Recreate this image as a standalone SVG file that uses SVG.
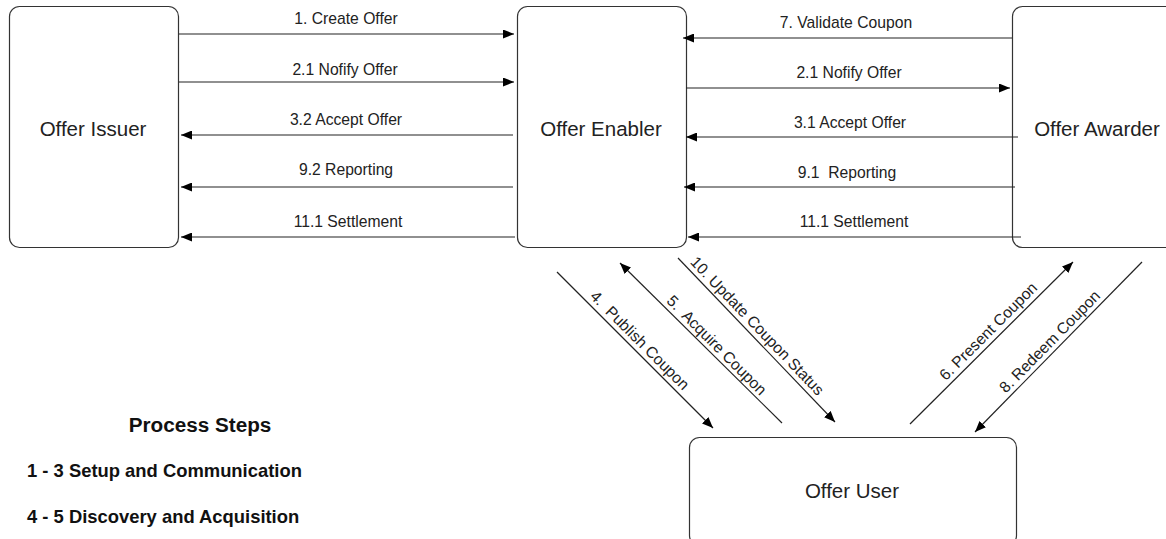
<svg xmlns="http://www.w3.org/2000/svg" width="1166" height="539" viewBox="0 0 1166 539">
<style>
.box{fill:#fff;stroke:#333;stroke-width:1.2}
.nl{font-family:"Liberation Sans",Arial,sans-serif;font-size:20.5px;fill:#222;text-anchor:middle}
.el{font-family:"Liberation Sans",Arial,sans-serif;font-size:15.7px;fill:#222;text-anchor:middle;white-space:pre}
.ln{stroke:#222;stroke-width:1.2;fill:none}
.ar{marker-end:url(#ah)}
.h{font-family:"Liberation Sans",Arial,sans-serif;font-weight:bold;fill:#111}
</style>
<defs>
<marker id="ah" markerUnits="userSpaceOnUse" markerWidth="12" markerHeight="9" refX="11" refY="4.5" orient="auto">
<path d="M0,0 L11,4.5 L0,9 z" fill="#000"/>
</marker>
</defs>
<rect width="1166" height="539" fill="#fff"/>
<g id="node-issuer"><rect class="box" x="9.5" y="6.5" width="169" height="241" rx="10"/><text class="nl" x="93" y="136">Offer Issuer</text></g>
<g id="node-enabler"><rect class="box" x="517.5" y="6.5" width="169" height="241" rx="10"/><text class="nl" x="601" y="136">Offer Enabler</text></g>
<g id="node-awarder"><rect class="box" x="1012.5" y="6.5" width="172" height="241" rx="10"/><text class="nl" x="1097" y="136">Offer Awarder</text></g>
<g id="node-user"><rect class="box" x="689.5" y="437.5" width="327" height="108" rx="10"/><text class="nl" x="852" y="498">Offer User</text></g>
<g id="connectors">
<path class="ln ar" d="M179,34 H514"/>
<path class="ln ar" d="M179,82 H514"/>
<path class="ln ar" d="M513,135 H181"/>
<path class="ln ar" d="M513,187 H181"/>
<path class="ln ar" d="M515,237 H181"/>
<path class="ln ar" d="M1012,38 H683"/>
<path class="ln ar" d="M686,88 H1010"/>
<path class="ln ar" d="M1018,137 H686"/>
<path class="ln ar" d="M1015,187 H684"/>
<path class="ln ar" d="M1021,237 H688"/>
<path class="ln ar" d="M557,272 L713,428"/>
<path class="ln ar" d="M782,423 L620,263"/>
<path class="ln ar" d="M678,258 L835,422"/>
<path class="ln ar" d="M910,424 L1073,262"/>
<path class="ln ar" d="M1142,262 L975,432"/>
<text class="el" x="346" y="24">1. Create Offer</text>
<text class="el" x="345" y="75">2.1 Nofify Offer</text>
<text class="el" x="346" y="125">3.2 Accept Offer</text>
<text class="el" x="346" y="175">9.2 Reporting</text>
<text class="el" x="348" y="227">11.1 Settlement</text>
<text class="el" x="846" y="28">7. Validate Coupon</text>
<text class="el" x="849" y="78">2.1 Nofify Offer</text>
<text class="el" x="850" y="128">3.1 Accept Offer</text>
<text class="el" x="847" y="178">9.1  Reporting</text>
<text class="el" x="854" y="227">11.1 Settlement</text>
<text class="el" transform="translate(636,344) rotate(45)">4.  Publish Coupon</text>
<text class="el" transform="translate(713,349) rotate(45)">5.  Acquire Coupon</text>
<text class="el" transform="translate(753.5,329.6) rotate(46.2)">10. Update Coupon Status</text>
<text class="el" transform="translate(992,335) rotate(-45)">6. Present Coupon</text>
<text class="el" transform="translate(1053.5,345.3) rotate(-45.5)">8. Redeem Coupon</text>
</g>
<text class="h" x="200" y="432" font-size="20.7" text-anchor="middle">Process Steps</text>
<text class="h" x="27" y="477" font-size="18.4">1 - 3 Setup and Communication</text>
<text class="h" x="27" y="523" font-size="18.4">4 - 5 Discovery and Acquisition</text>
</svg>
